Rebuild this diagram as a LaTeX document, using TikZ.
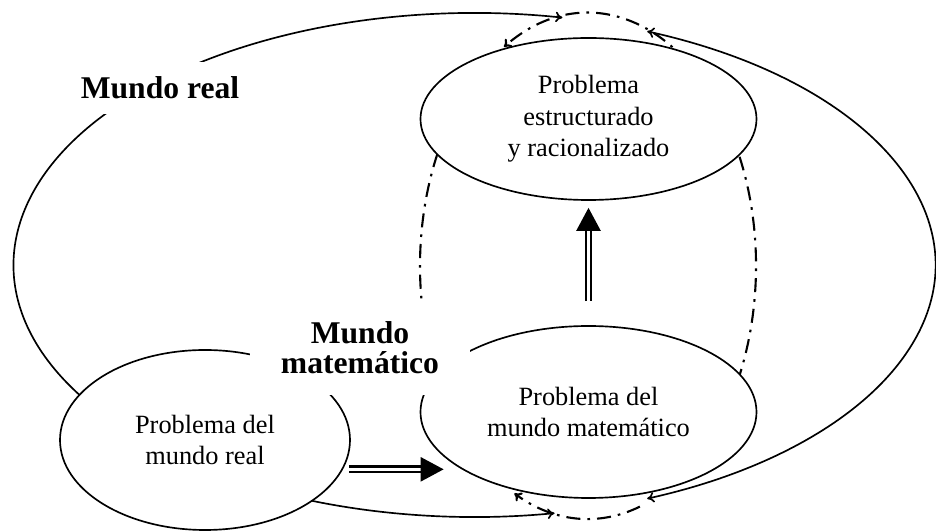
\documentclass[tikz,border=0pt]{standalone}
\usepackage{fontspec}
\setmainfont{Liberation Serif}
\usetikzlibrary{shapes,arrows.meta,positioning,calc}

\tikzset{
  prob/.style={draw,ellipse,fill=white,line width=0.95pt,align=center,inner sep=0pt,font=\fontsize{15}{18}\selectfont},
  worldlabel/.style={fill=white,align=center,inner sep=0pt,font=\fontsize{18}{17}\selectfont\bfseries},
  realline/.style={line width=0.95pt,>={To[length=4pt,width=6pt]}},
  mathline/.style={line width=1.2pt,dash pattern=on 8pt off 4pt on 1.5pt off 4pt,>={To[length=4pt,width=6pt]}},
  dblarrow/.style={double,double distance=1.6pt,line width=1.4pt,-{Triangle[length=0.46cm,width=0.48cm]}}
}

\begin{document}
\begin{tikzpicture}
    \useasboundingbox (0,0) rectangle (18.72,10.62);
    \coordinate (realc) at (9.49,5.32);
    \coordinate (matc) at (11.76,5.30);

    % mundo real
    \draw[realline,->] ($(realc)+(215:9.22 and 5.04)$) arc[start angle=215,end angle=79,x radius=9.22,y radius=5.04];
    \draw[realline,->] ($(realc)+(245:9.22 and 5.04)$) arc[start angle=245,end angle=280,x radius=9.22,y radius=5.04];
    \draw[realline,<->] ($(realc)+(68:9.22 and 5.04)$) arc[start angle=68,end angle=-68,x radius=9.22,y radius=5.04];

    % mundo matematico
    \draw[mathline,->] ($(matc)+(-72:3.36 and 5.06)$) arc[start angle=-72,end angle=-116,x radius=3.36,y radius=5.06];
    \draw[mathline,->] ($(matc)+(-60:3.36 and 5.06)$) arc[start angle=-60,end angle=120,x radius=3.36,y radius=5.06];
    \draw[mathline] ($(matc)+(130:3.36 and 5.06)$) arc[start angle=130,end angle=235,x radius=3.36,y radius=5.06];

    \node[prob,minimum width=5.8cm,minimum height=3.6cm] (real) at (4.10,1.82) {Problema del\\mundo real};
    \node[prob,minimum width=6.72cm,minimum height=3.44cm] (mat) at (11.77,2.38) {Problema del\\mundo matemático};
    \node[prob,minimum width=6.72cm,minimum height=3.24cm] (estr) at (11.77,8.24) {Problema\\estructurado\\y racionalizado};

    \node[worldlabel,minimum width=3.4cm,minimum height=1.04cm] (realname) at (3.2,8.86) {Mundo real};
    \node[worldlabel,minimum width=4.4cm,minimum height=1.9cm] (matname) at (7.2,3.66) {Mundo\\matemático};

    \draw[dblarrow] ([xshift=0.12cm]real.-12) -- ($(mat.west |- real.-12)+(0.48,0)$);
    \draw[dblarrow] ([yshift=0.48cm]mat.north) -- ([yshift=-0.14cm]estr.south);
\end{tikzpicture}
\end{document}
